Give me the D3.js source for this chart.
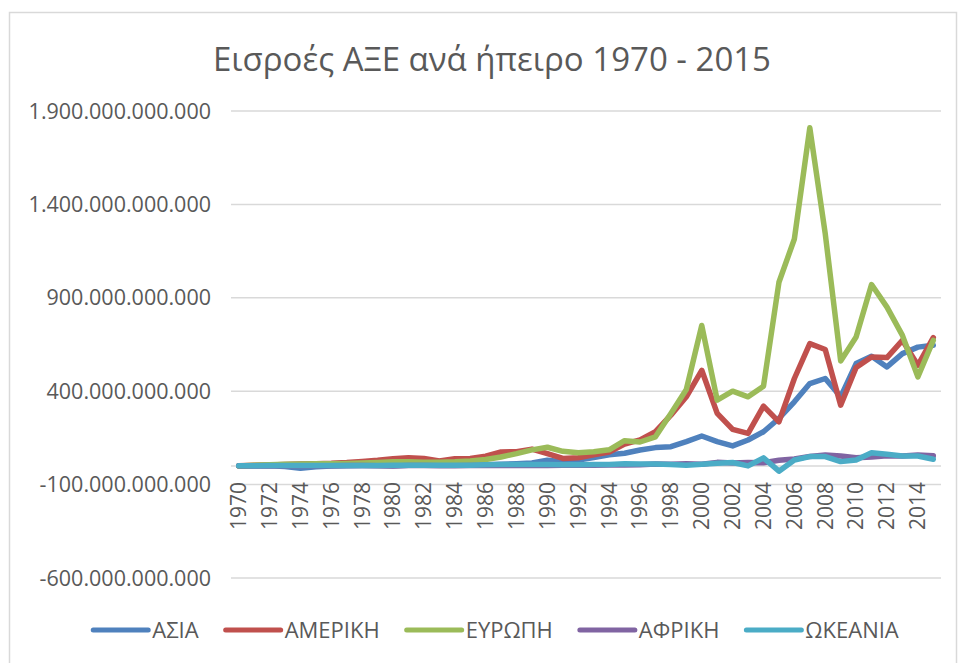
<!DOCTYPE html>
<html>
<head>
<meta charset="utf-8">
<script src="https://cdn.jsdelivr.net/npm/d3@7"></script>
<style>
  body { margin: 0; background: #fff; }
  svg { display: block; font-family: "Open Sans", "Noto Sans", sans-serif; }
</style>
</head>
<body>
<div id="chart"></div>
<script>
// years 1970 - 2015
const years = d3.range(1970, 2016);

// FDI inflows, billions USD
const asia = [0, 0, 1, -3, -12, -5, 0, 1, 2, 2,
  1, 3, 4, 4, 5, 6, 6, 9, 12, 16,
  30, 22, 32, 45, 60, 68, 85, 98, 103, 130,
  160, 130, 107, 139, 183, 254, 343, 441, 468, 370,
  548, 587, 530, 601, 636, 646];
const america = [1, 3, 5, 8, 10, 12, 14, 18, 24, 30,
  38, 44, 40, 26, 38, 40, 52, 75, 76, 90,
  66, 40, 44, 60, 74, 117, 139, 183, 272, 370,
  512, 281, 196, 174, 320, 236, 468, 655, 623, 325,
  527, 583, 580, 672, 539, 687];
const europe = [0, 3, 6, 9, 10, 11, 12, 13, 15, 18,
  22, 22, 20, 20, 22, 26, 34, 48, 66, 86,
  100, 78, 70, 76, 86, 135, 128, 156, 281, 409,
  752, 352, 400, 370, 427, 983, 1215, 1810, 1243, 562,
  690, 971, 850, 699, 477, 672];
const africa = [1, 1, 1, 1, 1, 1, 1, 2, 2, 1,
  0, 2, 2, 1, 1, 2, 2, 2, 2, 4,
  2, 3, 3, 4, 5, 5, 6, 10, 9, 11,
  9, 19, 15, 18, 17, 30, 37, 51, 58, 53,
  44, 48, 55, 53, 58, 54];
const oceania = [1, 1, 2, 2, 2, 2, 2, 2, 2, 2,
  3, 3, 3, 3, 3, 4, 6, 7, 8, 8,
  8, 6, 6, 7, 8, 12, 10, 10, 8, 4,
  9, 14, 18, 0, 43, -28, 32, 50, 50, 23,
  32, 71, 62, 53, 53, 36];

const seriesNames = ["ΑΣΙΑ", "ΑΜΕΡΙΚΗ", "ΕΥΡΩΠΗ", "ΑΦΡΙΚΗ", "ΩΚΕΑΝΙΑ"];
const seriesColors = ["#4F81BD", "#C0504D", "#9BBB59", "#8064A2", "#4BACC6"];
const yTicks = [-600e9, -100e9, 400e9, 900e9, 1400e9, 1900e9];
const title = "Εισροές ΑΞΕ ανά ήπειρο 1970 - 2015";

const width = 958, height = 663;
const plot = { left: 231, right: 941, top: 111, bottom: 578 };
const textColor = "#595959", gridColor = "#D9D9D9";

const series = [asia, america, europe, africa, oceania].map((vals, i) => ({
  name: seriesNames[i],
  color: seriesColors[i],
  values: vals.map((v, j) => ({ year: years[j], value: v * 1e9 }))
}));

const svg = d3.select("#chart").append("svg")
  .attr("width", width)
  .attr("height", height);

svg.append("rect")
  .attr("width", width).attr("height", height)
  .attr("fill", "#fff");

// chart frame
svg.append("rect")
  .attr("x", 9.5).attr("y", 12.5)
  .attr("width", 947).attr("height", 680)
  .attr("fill", "none")
  .attr("stroke", gridColor)
  .attr("stroke-width", 1.5);

const x = d3.scaleBand()
  .domain(years)
  .range([plot.left, plot.right]);
const xc = d => x(d) + x.bandwidth() / 2;

const y = d3.scaleLinear()
  .domain([yTicks[0], yTicks[yTicks.length - 1]])
  .range([plot.bottom, plot.top]);

const locale = d3.formatLocale({ decimal: ",", thousands: ".", grouping: [3], currency: ["", ""], minus: "-" });
const fmt = locale.format(",.0f");

// gridlines
svg.append("g")
  .selectAll("line")
  .data(yTicks)
  .join("line")
  .attr("x1", plot.left).attr("x2", plot.right)
  .attr("y1", d => y(d)).attr("y2", d => y(d))
  .attr("stroke", gridColor)
  .attr("stroke-width", 1.5);

// y labels
svg.append("g")
  .selectAll("text")
  .data(yTicks)
  .join("text")
  .attr("x", 211)
  .attr("y", d => y(d))
  .attr("dy", "0.35em")
  .attr("text-anchor", "end")
  .attr("fill", textColor)
  .style("font-size", "21.5px")
  .text(d => fmt(d));

// category axis at zero
svg.append("line")
  .attr("x1", plot.left).attr("x2", plot.right)
  .attr("y1", y(0)).attr("y2", y(0))
  .attr("stroke", gridColor)
  .attr("stroke-width", 1.5);

// x labels, every 2 years
svg.append("g")
  .selectAll("text")
  .data(years.filter((d, i) => i % 2 === 0))
  .join("text")
  .attr("transform", d => `translate(${xc(d)},${y(0) + 16}) rotate(-90)`)
  .attr("dy", "0.35em")
  .attr("text-anchor", "end")
  .attr("fill", textColor)
  .style("font-size", "21px")
  .text(d => d);

// lines
const line = d3.line()
  .x(d => xc(d.year))
  .y(d => y(d.value));

svg.append("g")
  .selectAll("path")
  .data(series)
  .join("path")
  .attr("d", d => line(d.values))
  .attr("fill", "none")
  .attr("stroke", d => d.color)
  .attr("stroke-width", 5.5)
  .attr("stroke-linejoin", "round")
  .attr("stroke-linecap", "round");

// title
svg.append("text")
  .attr("x", 492)
  .attr("y", 71)
  .attr("text-anchor", "middle")
  .attr("fill", textColor)
  .style("font-size", "33px")
  .text(title);

// legend
const legend = svg.append("g");
const items = legend.selectAll("g")
  .data(series)
  .join("g");
items.append("line")
  .attr("x1", 0).attr("x2", 55)
  .attr("y1", 0).attr("y2", 0)
  .attr("stroke", d => d.color)
  .attr("stroke-width", 5)
  .attr("stroke-linecap", "round");
items.append("text")
  .attr("x", 59)
  .attr("dy", "0.35em")
  .attr("fill", textColor)
  .style("font-size", "22px")
  .text(d => d.name);

let cx = 0;
const offsets = [];
items.each(function () {
  offsets.push(cx);
  const w = 59 + this.querySelector("text").getComputedTextLength();
  cx += w + 27;
});
const total = cx - 27;
const lx = 496 - total / 2;
items.attr("transform", (d, i) => `translate(${lx + offsets[i]},630)`);
</script>
</body>
</html>
